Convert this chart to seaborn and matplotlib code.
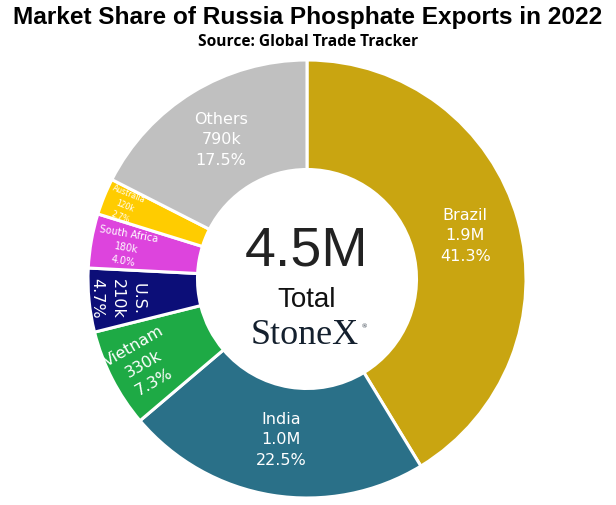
import matplotlib
matplotlib.use('Agg')
import matplotlib.pyplot as plt
import numpy as np
import seaborn as sns

# ── data ────────────────────────────────────────────────────────────────
COUNTRIES = ['Brazil', 'India', 'Vietnam', 'U.S.', 'South Africa', 'Australia', 'Others']
SHARES = [41.3, 22.5, 7.3, 4.7, 4.0, 2.7, 17.5]
VOLUMES = ['1.9M', '1.0M', '330k', '210k', '180k', '120k', '790k']
TOTAL_LABEL = '4.5M'

# ── style ───────────────────────────────────────────────────────────────
COLORS = ['#C9A511', '#2A7088', '#1EAA45', '#0C0E78', '#DD44DD', '#FFCC00', '#C0C0C0']
LABEL_R = [0.75, 0.74, 0.84, 0.87, 0.84, 0.90, 0.75]
LABEL_ROT = [0, 0, 30, -90, -10, -22, 0]
LABEL_SIZE = [11.5, 11.5, 11.5, 11.5, 7, 5.5, 11.5]

sns.set_theme(style='white')
plt.rcParams['font.family'] = ['DejaVu Sans']

fig = plt.figure(figsize=(6.16, 5.06), dpi=100)
ax = fig.add_axes([88 / 616, 7 / 506, 438 / 616, 438 / 506])

wedges, _ = ax.pie(SHARES, colors=COLORS, startangle=90, counterclock=False,
                   radius=1.0, wedgeprops=dict(width=0.5, edgecolor='white', linewidth=2.2))

for w, name, vol, pct, r, rot, fs in zip(wedges, COUNTRIES, VOLUMES, SHARES,
                                         LABEL_R, LABEL_ROT, LABEL_SIZE):
    mid = np.deg2rad((w.theta1 + w.theta2) / 2)
    ax.text(r * np.cos(mid), r * np.sin(mid), f'{name}\n{vol}\n{pct:.1f}%',
            ha='center', va='center', color='white', fontsize=fs,
            rotation=rot, rotation_mode='anchor', linespacing=1.45)

# centre block
ax.text(0, 0.132, TOTAL_LABEL, ha='center', va='center', fontsize=40,
        family='Liberation Sans', color='#222222')
ax.text(0, -0.091, 'Total', ha='center', va='center', fontsize=20,
        family='Liberation Sans', color='#111111')
ax.text(-0.01, -0.255, 'StoneX', ha='center', va='center', fontsize=26,
        family='Liberation Serif', color='#14202E')
ax.text(0.262, -0.212, '®', ha='center', va='center', fontsize=5,
        family='Liberation Serif', color='#14202E')

ax.set_xlim(-1, 1)
ax.set_ylim(-1, 1)
ax.set_aspect('equal')
ax.axis('off')

fig.text(0.5, 0.966, 'Market Share of Russia Phosphate Exports in 2022', ha='center', va='center',
         fontsize=17.6, fontweight='bold', color='black',
         family=['Liberation Sans Narrow', 'Liberation Sans'])
fig.text(0.5, 0.917, 'Source: Global Trade Tracker', ha='center', va='center',
         fontsize=11.2, fontweight='bold', color='black', family=['Open Sans', 'DejaVu Sans'])

fig.savefig('out.png', dpi=100, facecolor='white')
